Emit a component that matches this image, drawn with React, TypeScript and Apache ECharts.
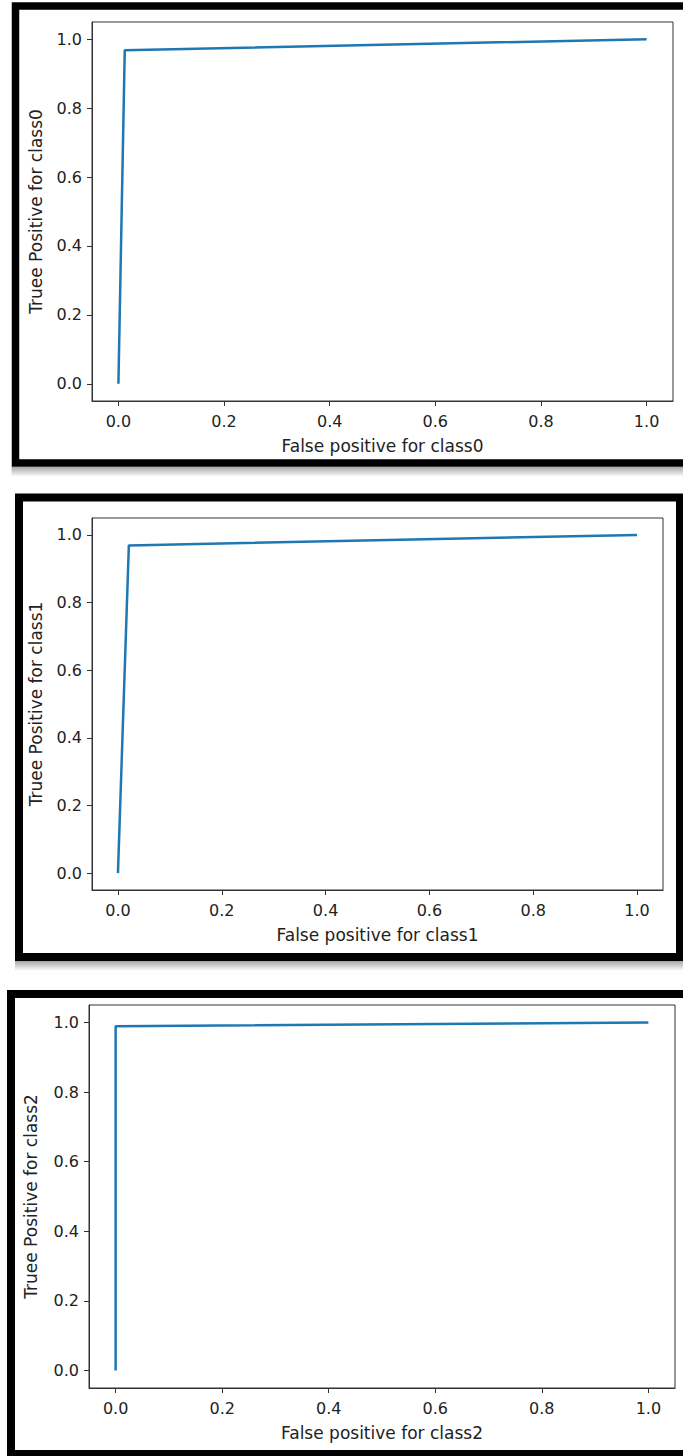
import React, { useEffect, useRef } from "react";
import * as echarts from "echarts";

const tickValues = [0, 0.2, 0.4, 0.6, 0.8, 1.0];
const classNames = ["class0", "class1", "class2"];
const fpr0 = [0, 0.012, 1];
const tpr0 = [0, 0.968, 1];
const fpr1 = [0, 0.021, 1];
const tpr1 = [0, 0.969, 1];
const fpr2 = [0, 0, 1];
const tpr2 = [0, 0.989, 1];

const FONT = "DejaVu Sans";
const TXT = "#222";
const SPINE = "#333";

const grids = [
  { left: 92, top: 22, width: 581, height: 379 },
  { left: 92, top: 518, width: 571, height: 372 },
  { left: 89, top: 1005, width: 586, height: 383 },
];
const yNameGaps = [48, 48, 50];

const frames = [
  { x: 15.5, y: 6, w: 690, h: 457, lw: 7.5 },
  { x: 19, y: 497.5, w: 661, h: 459.5, lw: 8 },
  { x: 11, y: 994, w: 690, h: 460, lw: 8 },
];

export default function App() {
  const ref = useRef<HTMLDivElement>(null);
  useEffect(() => {
    if (!ref.current) return;
    const chart = echarts.init(ref.current, null, { renderer: "svg" });
    const pairs = [
      [fpr0, tpr0],
      [fpr1, tpr1],
      [fpr2, tpr2],
    ];
    const fmt = (v: number) => v.toFixed(1);
    const axisCommon = (i: number) => ({
      type: "value",
      gridIndex: i,
      min: -0.05,
      max: 1.05,
      nameLocation: "middle",
      nameTextStyle: { fontSize: 17, color: TXT, fontFamily: FONT },
      axisLine: { show: true, onZero: false, lineStyle: { color: SPINE, width: 1 } },
      axisTick: { show: true, length: 5, customValues: tickValues, lineStyle: { color: SPINE, width: 1 } },
      axisLabel: { customValues: tickValues, formatter: fmt, fontSize: 16, color: TXT, fontFamily: FONT },
      splitLine: { show: false },
    });
    const graphic: any[] = [];
    frames.forEach((f) => {
      const bottomOuter = f.y + f.h + f.lw / 2;
      graphic.push({
        type: "rect",
        silent: true,
        shape: { x: f.x - 4, y: bottomOuter, width: f.w + 8, height: 10 },
        style: {
          fill: new echarts.graphic.LinearGradient(0, 0, 0, 1, [
            { offset: 0, color: "rgba(0,0,0,0.35)" },
            { offset: 1, color: "rgba(0,0,0,0)" },
          ]),
        },
      });
      graphic.push({
        type: "rect",
        silent: true,
        shape: { x: f.x, y: f.y, width: f.w, height: f.h },
        style: { fill: "none", stroke: "#000", lineWidth: f.lw },
      });
    });
    chart.setOption({
      animation: false,
      backgroundColor: "#fff",
      grid: grids.map((g) => ({ ...g, show: true, borderColor: SPINE, borderWidth: 1, backgroundColor: "transparent" })),
      xAxis: grids.map((_, i) => {
        const a: any = axisCommon(i);
        a.name = "False positive for " + classNames[i];
        a.nameGap = 36;
        a.axisLabel.margin = 12;
        return a;
      }),
      yAxis: grids.map((_, i) => {
        const a: any = axisCommon(i);
        a.name = "Truee Positive for " + classNames[i];
        a.nameGap = yNameGaps[i];
        a.axisLabel.margin = 10;
        return a;
      }),
      series: pairs.map(([xs, ys], i) => ({
        type: "line",
        xAxisIndex: i,
        yAxisIndex: i,
        symbol: "none",
        lineStyle: { color: "#1f77b4", width: 2.5 },
        data: xs.map((x, j) => [x, ys[j]]),
      })),
      graphic,
    });
    return () => chart.dispose();
  }, []);
  return (
    <div
      ref={ref}
      style={{ position: "absolute", left: 0, top: 0, width: 683, height: 1456 }}
    />
  );
}
